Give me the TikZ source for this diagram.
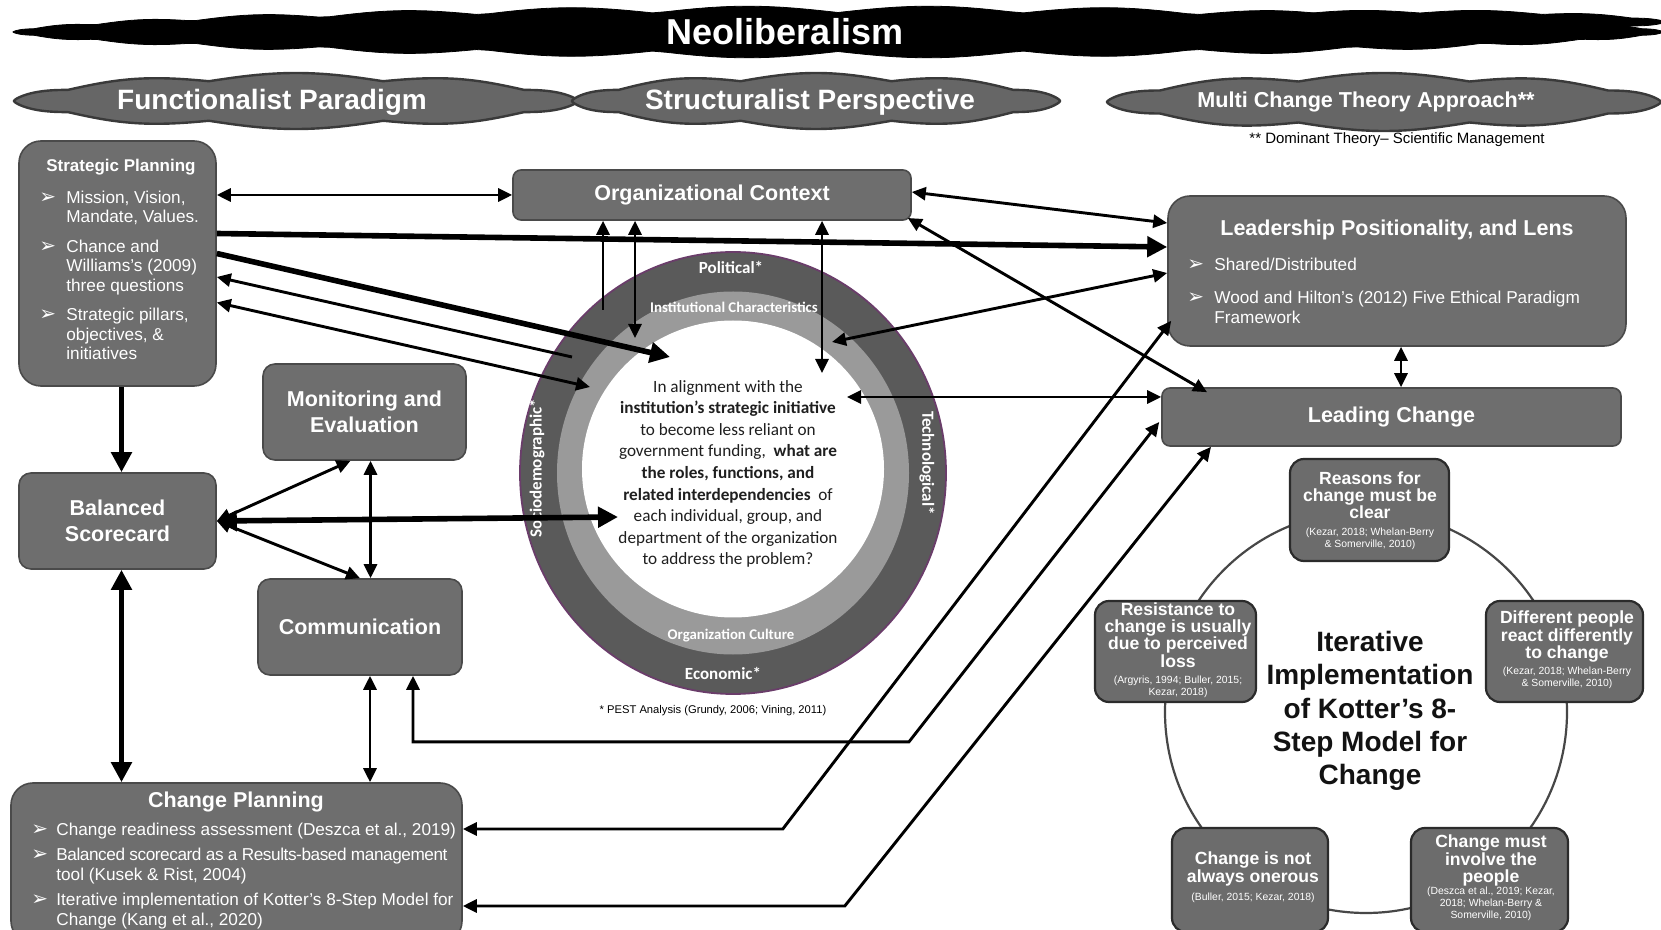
\documentclass[tikz,border=0pt]{standalone}
\usepackage{fontspec}
\setmainfont{Liberation Sans}
\newfontfamily\calib{Carlito}
\newfontfamily\djv{DejaVu Sans}
\usetikzlibrary{arrows.meta}
\definecolor{boxg}{HTML}{6E6E6E}
\definecolor{boxd}{HTML}{4A4A4A}
\definecolor{ringd}{HTML}{5A5A5A}
\definecolor{ringl}{HTML}{9A9A9A}
\definecolor{purp}{HTML}{6A3D6A}
\definecolor{kfill}{HTML}{6C6C6C}
\definecolor{kdraw}{HTML}{2B2B2B}
\definecolor{cloudg}{HTML}{666666}
\definecolor{cloudd}{HTML}{3A3A3A}
\newcommand{\mycloud}[6]{\filldraw[#6] plot[variable=\t, domain=0:360, samples=361] ({#1+#2*cos(\t)}, {#3+#4*sin(\t)*((abs(sin(\t))+0.001)^0.2)*(0.75+0.25*abs(sin(#5*\t)))}) -- cycle;}
\newcommand{\bul}{{\djv\fontsize{10}{9}\selectfont ➢}}
\tikzset{
  bx/.style={fill=boxg, draw=boxd, line width=0.8pt, rounded corners=#1, inner sep=0pt, text=white, font=\bfseries\fontsize{10.75}{13}\selectfont, align=center},
  wt/.style={text=white, inner sep=0pt},
  kb/.style={fill=kfill, draw=kdraw, line width=1.1pt, rounded corners=7pt, inner sep=0pt},
  kt/.style={text=white, inner sep=0pt, align=center, font=\bfseries\fontsize{8.8}{8.6}\selectfont},
  kc/.style={text=white, inner sep=0pt, align=center, font=\fontsize{5.2}{6}\selectfont},
  thinar/.style={line width=1.45pt, -{Triangle[length=7pt,width=6.5pt]}},
  thinbi/.style={line width=1.45pt, {Triangle[length=7pt,width=6.5pt]}-{Triangle[length=7pt,width=6.5pt]}},
  thickar/.style={line width=2.8pt, -{Triangle[length=10pt,width=10pt]}},
  thickbi/.style={line width=2.8pt, {Triangle[length=10pt,width=10pt]}-{Triangle[length=10pt,width=10pt]}},
  ringtxt/.style={text=white, inner sep=0pt, font=\calib\bfseries\fontsize{8.5}{10}\selectfont},
  ringtxts/.style={text=white, inner sep=0pt, font=\calib\bfseries\fontsize{7.4}{9}\selectfont},
}
\begin{document}
\begin{tikzpicture}[x=0.5pt,y=-0.5pt]
\useasboundingbox (0,0) rectangle (1661,930);
\clip (0,0) rectangle (1661,930);
\fill[white] (0,0) rectangle (1661,930);

% clouds
\mycloud{838}{825}{32}{26}{14}{fill=black, draw=black}
\mycloud{1420}{245}{22}{12}{6}{fill=black, draw=black}
\node[wt, font=\bfseries\fontsize{18}{20}\selectfont] (neo) at (785,32) {Neoliberalism};
\mycloud{296}{282}{101}{28}{5}{fill=cloudg, draw=cloudd, line width=1.2pt}
\mycloud{816}{244}{101}{28}{5}{fill=cloudg, draw=cloudd, line width=1.2pt}
\mycloud{1384}{277}{102}{29}{5}{fill=cloudg, draw=cloudd, line width=1.2pt}
\node[wt, font=\bfseries\fontsize{14}{16}\selectfont] (func) at (272,102) {Functionalist Paradigm};
\node[wt, font=\bfseries\fontsize{14}{16}\selectfont] (struc) at (810,102) {Structuralist Perspective};
\node[wt, font=\bfseries\fontsize{10.8}{12}\selectfont] (multi) at (1366,102) {Multi Change Theory Approach**};
\node[inner sep=0pt, font=\fontsize{7.5}{9}\selectfont] (dom) at (1397,140) {** Dominant Theory– Scientific Management};

% PEST circle
\fill[ringd] (733,473) ellipse[x radius=213, y radius=221];
\draw[purp, line width=0.9pt] (733,473) ellipse[x radius=213, y radius=221];
\fill[ringl] (733,473) ellipse[x radius=176, y radius=181.5];
\fill[white] (733,469) ellipse[x radius=151, y radius=148.5];
\node[ringtxt] (pol) at (731,267) {Political*};
\node[ringtxts] (inst) at (734,307) {Institutional Characteristics};
\node[ringtxts] (orgc) at (731,636) {Organization Culture};
\node[ringtxt] (eco) at (723,673) {Economic*};
\node[ringtxt, rotate=90] (socio) at (537,468) {Sociodemographic*};
\node[ringtxt, rotate=-90] (tech) at (927,463) {Technological*};
\node[inner sep=0pt, align=center, text=black!88, font=\calib\fontsize{8.6}{10.8}\selectfont] (q) at (728,474) {In alignment with the\\
\textbf{institution’s strategic initiative}\\
to become less reliant on\\
government funding,\ \ \textbf{what are}\\
\textbf{the roles, functions, and}\\
\textbf{related interdependencies}\ \ of\\
each individual, group, and\\
department of the organization\\
to address the problem?};
\node[inner sep=0pt, font=\fontsize{5.6}{7}\selectfont] (pest) at (713,711) {* PEST Analysis (Grundy, 2006; Vining, 2011)};

% Kotter circle
\draw[black!72, line width=1.1pt] (1366,712) ellipse[x radius=201, y radius=201];
\node[inner sep=0pt, align=center, text=black!93, font=\bfseries\fontsize{14}{16.7}\selectfont] (iter) at (1370,711) {Iterative\\Implementation\\of Kotter’s 8-\\Step Model for\\Change};

\node[kb, minimum width=79.5pt, minimum height=51pt] (k1) at (1369.5,510) {};
\node[kt] (k1t) at (1370,495) {Reasons for\\change must be\\clear};
\node[kc] (k1c) at (1370,538.5) {(Kezar, 2018; Whelan-Berry\\\& Somerville, 2010)};

\node[kb, minimum width=78.5pt, minimum height=50.5pt] (k2) at (1564.5,651.5) {};
\node[kt] (k2t) at (1567,636.5) {Different people\\react differently\\to change};
\node[kc] (k2c) at (1567,678) {(Kezar, 2018; Whelan-Berry\\\& Somerville, 2010)};

\node[kb, minimum width=78.5pt, minimum height=52pt] (k3) at (1489.5,880) {};
\node[kt] (k3t) at (1491,860.5) {Change must\\involve the\\people};
\node[kc] (k3c) at (1491,903.5) {(Deszca et al., 2019; Kezar,\\2018; Whelan-Berry \&\\Somerville, 2010)};

\node[kb, minimum width=78pt, minimum height=52pt] (k4) at (1250,880) {};
\node[kt] (k4t) at (1253,869) {Change is not\\always onerous};
\node[kc] (k4c) at (1253,898) {(Buller, 2015; Kezar, 2018)};

\node[kb, minimum width=80.5pt, minimum height=50.5pt] (k5) at (1175.5,651.5) {};
\node[kt] (k5t) at (1178,635) {Resistance to\\change is usually\\due to perceived\\loss};
\node[kc] (k5c) at (1178,687) {(Argyris, 1994; Buller, 2015;\\Kezar, 2018)};

% main boxes
\node[bx=11pt, minimum width=98.5pt, minimum height=122.5pt] (sp) at (117.5,263.5) {};
\node[wt, font=\bfseries\fontsize{8.5}{10}\selectfont] (spt) at (121,167) {Strategic Planning};
\node[wt, anchor=north west, font=\fontsize{8.6}{9.75}\selectfont] (spl) at (39,189) {\begin{tabular}{@{}p{13.5pt}@{}l@{}}
\bul & Mission, Vision,\\ & Mandate, Values.\\[5pt]
\bul & Chance and\\ & Williams’s (2009)\\ & three questions\\[5pt]
\bul & Strategic pillars,\\ & objectives, \&\\ & initiatives\end{tabular}};

\node[bx=4pt, minimum width=199pt, minimum height=25pt] (oc) at (712,195) {Organizational Context};

\node[bx=11pt, minimum width=229pt, minimum height=75pt] (lead) at (1397,271) {};
\node[wt, font=\bfseries\fontsize{10.75}{13}\selectfont] (leadt) at (1397,230) {Leadership Positionality, and Lens};
\node[wt, anchor=north west, font=\fontsize{8.6}{10}\selectfont] (leadl) at (1187,256) {\begin{tabular}{@{}p{13.5pt}@{}l@{}}
\bul & Shared/Distributed\\[6.5pt]
\bul & Wood and Hilton’s (2012) Five Ethical Paradigm\\ & Framework\end{tabular}};

\node[bx=4pt, minimum width=229.5pt, minimum height=29pt] (lc) at (1391.5,417) {Leading Change};
\node[bx=6pt, minimum width=101.5pt, minimum height=48pt] (me) at (364.5,412) {Monitoring and\\Evaluation};
\node[bx=6pt, minimum width=98.5pt, minimum height=48pt] (bs) at (117.5,521) {Balanced\\Scorecard};
\node[bx=6pt, minimum width=102pt, minimum height=48pt] (comm) at (360,627) {Communication};

\node[bx=11pt, minimum width=225.5pt, minimum height=80pt] (cp) at (236.5,863) {};
\node[wt, font=\bfseries\fontsize{10.75}{13}\selectfont] (cpt) at (236,802) {Change Planning};
\node[wt, anchor=north west, font=\fontsize{8.6}{10}\selectfont] (cpl) at (31,821) {\begin{tabular}{@{}p{12.5pt}@{}l@{}}
\bul & Change readiness assessment (Deszca et al., 2019)\\[2.5pt]
\bul & {\addfontfeature{LetterSpace=-2.5}Balanced scorecard as a Results-based management}\\ & tool (Kusek \& Rist, 2004)\\[2.5pt]
\bul & Iterative implementation of Kotter’s 8-Step Model for\\ & Change (Kang et al., 2020)\end{tabular}};

% endpoints on the PEST circle
\coordinate (ciA) at (670,357);
\coordinate (ciB) at (572,357);
\coordinate (ciC) at (590,387);
\coordinate (ciD) at (603,310);
\coordinate (ciE) at (635,338);
\coordinate (ciF) at (822,373);
\coordinate (ciG) at (832,342);
\coordinate (ciH) at (847,397);
\coordinate (ciI) at (618,517);

% connectors
\draw[thinbi] (sp.east |- oc.west) -- (oc.west);
\draw[thickar] ([shift={(0,-30)}]sp.east) -- ([shift={(0,-24)}]lead.west);
\draw[thickar] ([shift={(0,-10)}]sp.east) -- (ciA);
\draw[thinar] (ciB) -- ([shift={(0,13.5)}]sp.east);
\draw[thinbi] ([shift={(0,39)}]sp.east) -- (ciC);
\draw[thinar] (ciD) -- (ciD |- oc.south);
\draw[thinbi] (ciE |- oc.south) -- (ciE);
\draw[thinbi] (ciF |- oc.south) -- (ciF);
\draw[thinbi] ([shift={(0,-3)}]oc.east) -- ([shift={(0,-48)}]lead.west);
\draw[thinbi] ([shift={(-4,23)}]oc.east) -- ([shift={(-184.5,5)}]lc.north);
\draw[thinbi] (ciG) -- ([shift={(0,2)}]lead.west);
\draw[thinbi] (ciH) -- (lc.west |- ciH);
\draw[thinbi] ([xshift=2pt]lead.south) -- ([xshift=2pt]lead.south |- lc.north);
\draw[thinbi] ([shift={(0,-34)}]cp.east) -- ++(320,0) -- ([shift={(4,-26)}]lead.south west);
\draw[thinbi] ([shift={(0,43)}]cp.east) -- ++(382,0) -- ([shift={(-180.5,0)}]lc.south);
\draw[thinbi] ([shift={(53,0)}]comm.south) -- ++(0,66) -- ++(496,0) -- ([shift={(-2,5)}]lc.west);
\draw[thickar] ([xshift=2pt]sp.south) -- ([xshift=2pt]bs.north);
\draw[thickbi] ([xshift=2pt]bs.south) -- ([xshift=2pt]bs.south |- cp.north);
\draw[thickbi] (bs.east) -- (ciI);
\draw[thinbi] (bs.east) -- ([shift={(-14,0)}]me.south);
\draw[thinbi] (bs.east) -- (comm.north);
\draw[thinbi] ([xshift=3pt]me.south) -- ([xshift=3pt]me.south |- comm.north);
\draw[thinbi] ([xshift=5pt]comm.south) -- ([xshift=5pt]comm.south |- cp.north);
\end{tikzpicture}
\end{document}
